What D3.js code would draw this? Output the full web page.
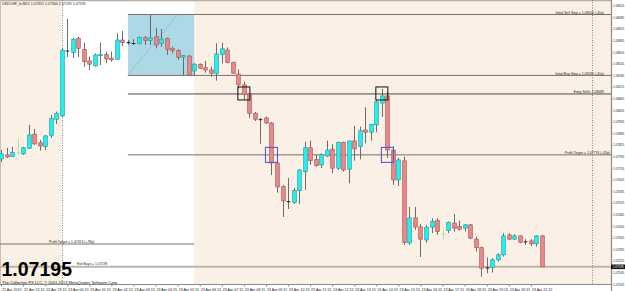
<!DOCTYPE html>
<html>
<head>
<meta charset="utf-8">
<script src="https://cdn.jsdelivr.net/npm/d3@7"></script>
<style>
html, body { margin: 0; padding: 0; background: #fff; }
svg { display: block; font-family: "Liberation Sans", Arial, sans-serif; }
</style>
</head>
<body>
<svg id="chart" width="625" height="291"></svg>
<script>
const symbolTitle = 'USDCHF_fx,M15  1.07355 1.07360 1.07195 1.07195';
const copyrightText = 'The Collective FX LLC, \u00a9 2001-2013 MetaQuotes Software Corp.';

// M15 bars from 22 Apr 2015 21:15
const firstBar = new Date(Date.UTC(2015, 3, 22, 21, 15));

const opens = [
  1.07753, 1.07774, 1.07765, 1.07784, 1.07779, 1.07808, 1.07881, 1.07837, 1.07817, 1.07875, 1.07958,
  1.07975, 1.08315, 1.08303, 1.08377, 1.08320, 1.08260, 1.08235, 1.08287, 1.08294, 1.08274,
  1.08268, 1.08368, 1.08356, 1.08351, 1.08351, 1.08380, 1.08365, 1.08385, 1.08351, 1.08377,
  1.08325, 1.08313, 1.08279, 1.08285, 1.08208, 1.08243, 1.08225, 1.08213, 1.08196, 1.08294,
  1.08316, 1.08253, 1.08192, 1.08136, 1.08089, 1.07989, 1.07958, 1.07965, 1.07939, 1.07732,
  1.07610, 1.07536, 1.07527, 1.07589, 1.07687, 1.07811, 1.07751, 1.07722, 1.07768, 1.07803,
  1.07705, 1.07839, 1.07700, 1.07846, 1.07817, 1.07903, 1.07891, 1.07929, 1.08042, 1.08079,
  1.07799, 1.07644, 1.07743, 1.07319, 1.07448, 1.07401, 1.07334, 1.07400, 1.07434, 1.07365,
  1.07382, 1.07421, 1.07403, 1.07395, 1.07412, 1.07338, 1.07294, 1.07191, 1.07191, 1.07231,
  1.07257, 1.07360, 1.07338, 1.07355, 1.07325, 1.07329, 1.07314, 1.07355
];
const highs = [
  1.07799, 1.07810, 1.07815, 1.07862, 1.07815, 1.07929, 1.07908, 1.07851, 1.07877, 1.07980, 1.07998,
  1.08327, 1.08477, 1.08379, 1.08384, 1.08353, 1.08282, 1.08299, 1.08354, 1.08308, 1.08308,
  1.08403, 1.08415, 1.08368, 1.08372, 1.08385, 1.08389, 1.08497, 1.08430, 1.08425, 1.08380,
  1.08334, 1.08320, 1.08290, 1.08291, 1.08248, 1.08246, 1.08260, 1.08230, 1.08351, 1.08354,
  1.08330, 1.08256, 1.08217, 1.08153, 1.08094, 1.07996, 1.07965, 1.07972, 1.07944, 1.07748,
  1.07619, 1.07655, 1.07603, 1.07700, 1.07842, 1.07848, 1.07774, 1.07782, 1.07848, 1.07829,
  1.07842, 1.07842, 1.07848, 1.07924, 1.07920, 1.08020, 1.07934, 1.08058, 1.08115, 1.08099,
  1.07817, 1.07758, 1.07765, 1.07505, 1.07505, 1.07417, 1.07412, 1.07446, 1.07446, 1.07396,
  1.07429, 1.07469, 1.07434, 1.07417, 1.07417, 1.07351, 1.07300, 1.07243, 1.07240, 1.07265,
  1.07369, 1.07369, 1.07364, 1.07358, 1.07338, 1.07338, 1.07358, 1.07360
];
const lows = [
  1.07737, 1.07758, 1.07763, 1.07774, 1.07774, 1.07805, 1.07825, 1.07796, 1.07799, 1.07862, 1.07934,
  1.07970, 1.08280, 1.08275, 1.08280, 1.08230, 1.08213, 1.08230, 1.08239, 1.08248, 1.08256,
  1.08265, 1.08337, 1.08342, 1.08342, 1.08346, 1.08342, 1.08342, 1.08325, 1.08334, 1.08291,
  1.08299, 1.08265, 1.08187, 1.08182, 1.08182, 1.08218, 1.08199, 1.08178, 1.08158, 1.08248,
  1.08248, 1.08192, 1.08118, 1.08058, 1.07965, 1.07949, 1.07831, 1.07934, 1.07670, 1.07579,
  1.07453, 1.07494, 1.07520, 1.07520, 1.07593, 1.07722, 1.07713, 1.07705, 1.07762, 1.07679,
  1.07696, 1.07687, 1.07627, 1.07744, 1.07751, 1.07834, 1.07848, 1.07891, 1.07970, 1.07758,
  1.07619, 1.07613, 1.07308, 1.07308, 1.07386, 1.07246, 1.07320, 1.07369, 1.07360, 1.07334,
  1.07369, 1.07377, 1.07382, 1.07377, 1.07338, 1.07274, 1.07144, 1.07162, 1.07165, 1.07222,
  1.07248, 1.07334, 1.07334, 1.07317, 1.07308, 1.07303, 1.07300, 1.07195
];
const closes = [
  1.07779, 1.07763, 1.07786, 1.07784, 1.07811, 1.07877, 1.07831, 1.07820, 1.07872, 1.07963, 1.07989,
  1.08316, 1.08311, 1.08372, 1.08325, 1.08256, 1.08243, 1.08291, 1.08294, 1.08270, 1.08265,
  1.08368, 1.08354, 1.08355, 1.08350, 1.08382, 1.08365, 1.08379, 1.08342, 1.08373, 1.08320,
  1.08313, 1.08279, 1.08287, 1.08187, 1.08243, 1.08222, 1.08213, 1.08196, 1.08296, 1.08322,
  1.08251, 1.08196, 1.08136, 1.08087, 1.07989, 1.07958, 1.07956, 1.07939, 1.07732, 1.07608,
  1.07536, 1.07532, 1.07589, 1.07696, 1.07811, 1.07744, 1.07718, 1.07774, 1.07799, 1.07705,
  1.07839, 1.07696, 1.07846, 1.07805, 1.07899, 1.07891, 1.07932, 1.08049, 1.08079, 1.07799,
  1.07644, 1.07748, 1.07320, 1.07448, 1.07401, 1.07338, 1.07400, 1.07429, 1.07377, 1.07365,
  1.07424, 1.07395, 1.07390, 1.07412, 1.07343, 1.07294, 1.07188, 1.07189, 1.07231, 1.07257,
  1.07355, 1.07338, 1.07355, 1.07322, 1.07324, 1.07314, 1.07355, 1.07195
];

const priceTicks = [
  1.08545, 1.08485, 1.08425, 1.08365, 1.08305, 1.08245, 1.08185, 1.08125, 1.08065, 1.08005,
  1.07945, 1.07885, 1.07825, 1.07765, 1.07705, 1.07645, 1.07585, 1.07525, 1.07465, 1.07405,
  1.07345, 1.07285, 1.07225, 1.07165, 1.07105
];
const timeTickLabels = [
  '22 Apr 2015', '22 Apr 22:15', '22 Apr 23:15', '23 Apr 00:15', '23 Apr 01:15', '23 Apr 02:15',
  '23 Apr 03:15', '23 Apr 04:15', '23 Apr 05:15', '23 Apr 06:15', '23 Apr 07:15', '23 Apr 08:15',
  '23 Apr 09:15', '23 Apr 10:15', '23 Apr 11:15', '23 Apr 12:15', '23 Apr 13:15', '23 Apr 14:15',
  '23 Apr 15:15', '23 Apr 16:15', '23 Apr 17:15', '23 Apr 18:15', '23 Apr 19:15', '23 Apr 20:15',
  '23 Apr 21:15'
];

// trade levels
const levelPrices = [1.08500, 1.08185, 1.08089, 1.07774, 1.07313];
const levelLabels = [
  'Initial Sell Stop = 1.08500  (-41p)',
  'Initial Buy Stop = 1.08185  (-41p)',
  'Entry Sells: 1.08089',
  'Profit Target = 1.07774  (+32p)',
  'Profit Target = 1.07313  (+78p)'
];
const levelStarts = [
  new Date(Date.UTC(2015, 3, 23, 3, 0)), new Date(Date.UTC(2015, 3, 23, 3, 0)),
  new Date(Date.UTC(2015, 3, 23, 3, 0)), new Date(Date.UTC(2015, 3, 23, 3, 0)),
  new Date(Date.UTC(2015, 3, 22, 21, 10))
];
const levelEnds = [null, null, null, null, new Date(Date.UTC(2015, 3, 23, 6, 0))];
const bottomLabel = 'Exit Buys = 1.07198';

// range box (03:00 - 06:00) and signal markers
const boxStart = new Date(Date.UTC(2015, 3, 23, 3, 0));
const boxEnd = new Date(Date.UTC(2015, 3, 23, 6, 0));
const trendEnd = new Date(Date.UTC(2015, 3, 23, 5, 15));
const entryMarkTimes = [new Date(Date.UTC(2015, 3, 23, 8, 15)), new Date(Date.UTC(2015, 3, 23, 14, 30))];
const targetMarkTimes = [new Date(Date.UTC(2015, 3, 23, 9, 30)), new Date(Date.UTC(2015, 3, 23, 14, 45))];
const daySeparators = [new Date(Date.UTC(2015, 3, 23, 0, 0)), new Date(Date.UTC(2015, 3, 24, 0, 0))];

const plotRight = 611;
const plotBottom = 284.5;
const barMs = 15 * 60 * 1000;
const barTimes = opens.map((d, i) => new Date(firstBar.getTime() + i * barMs));
const bars = opens.map((o, i) => ({ t: barTimes[i], o, h: highs[i], l: lows[i], c: closes[i] }));

const svg = d3.select('#chart');
const x = d3.scaleUtc().domain([firstBar, daySeparators[1]]).range([1.0, 591.6]);
const y = d3.scaleLinear().domain([1.07225, 1.08545]).range([261, 5.8]);

// backgrounds
svg.append('rect').attr('width', 625).attr('height', 291).attr('fill', '#fff');
svg.append('rect').attr('x', 0).attr('y', 0).attr('width', plotRight).attr('height', plotBottom)
    .attr('fill', '#faf0e6');
svg.append('rect')
    .attr('x', x(daySeparators[0])).attr('y', 0)
    .attr('width', x(boxEnd) - x(daySeparators[0])).attr('height', plotBottom)
    .attr('fill', '#ffffff');
svg.append('line').attr('x1', 0).attr('x2', plotRight).attr('y1', 0.5).attr('y2', 0.5)
    .attr('stroke', '#b8b0a8').attr('stroke-width', 1.5);
svg.append('line').attr('x1', 0.5).attr('x2', 0.5).attr('y1', 0).attr('y2', plotBottom)
    .attr('stroke', '#c8c0b8');

// blue range box with dotted diagonal
svg.append('rect')
    .attr('x', x(boxStart)).attr('y', y(levelPrices[0]))
    .attr('width', x(boxEnd) - x(boxStart)).attr('height', y(levelPrices[1]) - y(levelPrices[0]))
    .attr('fill', '#add8e6');
svg.append('line')
    .attr('x1', x(boxStart)).attr('y1', y(levelPrices[1]))
    .attr('x2', x(trendEnd)).attr('y2', y(levelPrices[0]))
    .attr('stroke', '#7a8a96').attr('stroke-width', 0.8).attr('stroke-dasharray', '1,1.5');

// day separators
svg.selectAll('line.sep').data(daySeparators).enter().append('line')
    .attr('class', 'sep')
    .attr('x1', d => Math.round(x(d)) + 0.5).attr('x2', d => Math.round(x(d)) + 0.5)
    .attr('y1', 0).attr('y2', plotBottom)
    .attr('stroke', '#6a6a6a').attr('stroke-width', 0.8).attr('stroke-dasharray', '1,1.5');

// level lines
svg.selectAll('line.level').data(levelPrices).enter().append('line')
    .attr('class', 'level')
    .attr('x1', (d, i) => Math.max(0, x(levelStarts[i])))
    .attr('x2', (d, i) => levelEnds[i] ? x(levelEnds[i]) : plotRight)
    .attr('y1', d => y(d)).attr('y2', d => y(d))
    .attr('stroke', (d, i) => i === 2 ? '#4a4a4a' : '#77716b').attr('stroke-width', 1);

svg.selectAll('text.level').data(levelPrices).enter().append('text')
    .attr('class', 'level')
    .attr('x', (d, i) => levelEnds[i] ? 49 : (i === 3 ? 610 : 604))
    .attr('y', d => y(d) - 0.8)
    .attr('text-anchor', (d, i) => levelEnds[i] ? 'start' : 'end')
    .attr('font-size', 3.4).attr('fill', '#222')
    .text((d, i) => levelLabels[i]);

// bid line
const lastClose = closes[closes.length - 1];
svg.append('line').attr('x1', 0).attr('x2', plotRight)
    .attr('y1', y(lastClose)).attr('y2', y(lastClose))
    .attr('stroke', '#bdb4aa').attr('stroke-width', 2);
svg.append('text').attr('x', 77).attr('y', y(lastClose) - 1.5)
    .attr('font-size', 3.4).attr('fill', '#222').text(bottomLabel);

// candles
const bw = 3.6;
const candles = svg.append('g');
candles.selectAll('line.wick').data(bars).enter().append('line')
    .attr('class', 'wick')
    .attr('x1', d => Math.round(x(d.t)) + 0.5).attr('x2', d => Math.round(x(d.t)) + 0.5)
    .attr('y1', d => y(d.h)).attr('y2', d => y(d.l))
    .attr('stroke', d => d.o === d.c ? '#b8e08c' : '#5c5c5c').attr('stroke-width', 0.9);

candles.selectAll('rect.body').data(bars.filter(d => Math.abs(y(d.o) - y(d.c)) >= 1)).enter().append('rect')
    .attr('class', 'body')
    .attr('x', d => Math.round(x(d.t)) + 0.5 - bw / 2)
    .attr('y', d => y(Math.max(d.o, d.c)))
    .attr('width', bw)
    .attr('height', d => Math.abs(y(d.o) - y(d.c)))
    .attr('fill', d => d.c > d.o ? '#1ef2f2' : '#e58b8b')
    .attr('stroke', d => d.c > d.o ? '#2a9e9e' : '#b25858')
    .attr('stroke-width', 0.7);

candles.selectAll('line.doji').data(bars.filter(d => Math.abs(y(d.o) - y(d.c)) < 1)).enter().append('line')
    .attr('class', 'doji')
    .attr('x1', d => Math.round(x(d.t)) + 0.5 - bw / 2).attr('x2', d => Math.round(x(d.t)) + 0.5 + bw / 2)
    .attr('y1', d => y(d.c)).attr('y2', d => y(d.c))
    .attr('stroke', d => d.o === d.c ? '#b8e08c' : '#1a1a1a').attr('stroke-width', 1);

// signal boxes
svg.selectAll('rect.entry').data(entryMarkTimes).enter().append('rect')
    .attr('class', 'entry')
    .attr('x', d => x(d) - 6).attr('y', y(levelPrices[2]) - 7)
    .attr('width', 12).attr('height', 13)
    .attr('fill', 'none').attr('stroke', '#111').attr('stroke-width', 1);
svg.selectAll('rect.target').data(targetMarkTimes).enter().append('rect')
    .attr('class', 'target')
    .attr('x', d => x(d) - 6).attr('y', y(levelPrices[3]) - 7.5)
    .attr('width', 12).attr('height', 15)
    .attr('fill', 'none').attr('stroke', '#5548c8').attr('stroke-width', 1);

// price axis
const yAxis = svg.append('g')
    .attr('transform', `translate(${plotRight},0)`)
    .call(d3.axisRight(y).tickValues(priceTicks).tickSize(1.5).tickSizeOuter(0).tickPadding(0.7)
        .tickFormat(d3.format('.5f')));
yAxis.select('.domain').remove();
yAxis.selectAll('line').attr('stroke', '#333').attr('stroke-width', 0.6);
yAxis.selectAll('text').attr('font-size', 3.05).attr('fill', '#222').attr('font-family', '"Liberation Sans", Arial, sans-serif');
svg.append('line').attr('x1', plotRight + 0.5).attr('x2', plotRight + 0.5).attr('y1', 0).attr('y2', 291)
    .attr('stroke', '#8a8a8a').attr('stroke-width', 1.2);

// current price tag
svg.append('rect').attr('x', plotRight).attr('y', y(lastClose) - 2.3).attr('width', 14).attr('height', 4.6)
    .attr('fill', '#111');
svg.append('text').attr('x', plotRight + 1.8).attr('y', y(lastClose) + 1.1)
    .attr('font-size', 3.05).attr('fill', '#fff').text(d3.format('.5f')(lastClose));

// time axis
const timeTicks = timeTickLabels.map((d, i) => new Date(firstBar.getTime() + i * 4 * barMs));
const xAxis = svg.append('g')
    .attr('transform', `translate(0,${plotBottom})`)
    .call(d3.axisBottom(x).tickValues(timeTicks).tickSize(2).tickSizeOuter(0).tickPadding(1)
        .tickFormat((d, i) => timeTickLabels[i]));
xAxis.select('.domain').remove();
xAxis.selectAll('line').attr('stroke', '#333').attr('stroke-width', 0.6);
xAxis.selectAll('text').attr('text-anchor', 'start').attr('dx', 0.5).attr('dy', '0.9em')
    .attr('font-size', 3.6).attr('fill', '#222').attr('font-family', '"Liberation Sans", Arial, sans-serif');
svg.append('line').attr('x1', 0).attr('x2', plotRight).attr('y1', plotBottom).attr('y2', plotBottom)
    .attr('stroke', '#8a8a8a').attr('stroke-width', 1);

// texts
svg.append('text').attr('x', 2).attr('y', 5).attr('font-size', 3.6).attr('fill', '#222').text(symbolTitle);
svg.append('text').attr('x', 1.5).attr('y', 276.4)
    .attr('font-size', 19.5).attr('font-weight', 'bold').attr('fill', '#000')
    .text(d3.format('.5f')(lastClose));
svg.append('text').attr('x', 2).attr('y', 284.4).attr('font-size', 4).attr('fill', '#111').text(copyrightText);
</script>
</body>
</html>
